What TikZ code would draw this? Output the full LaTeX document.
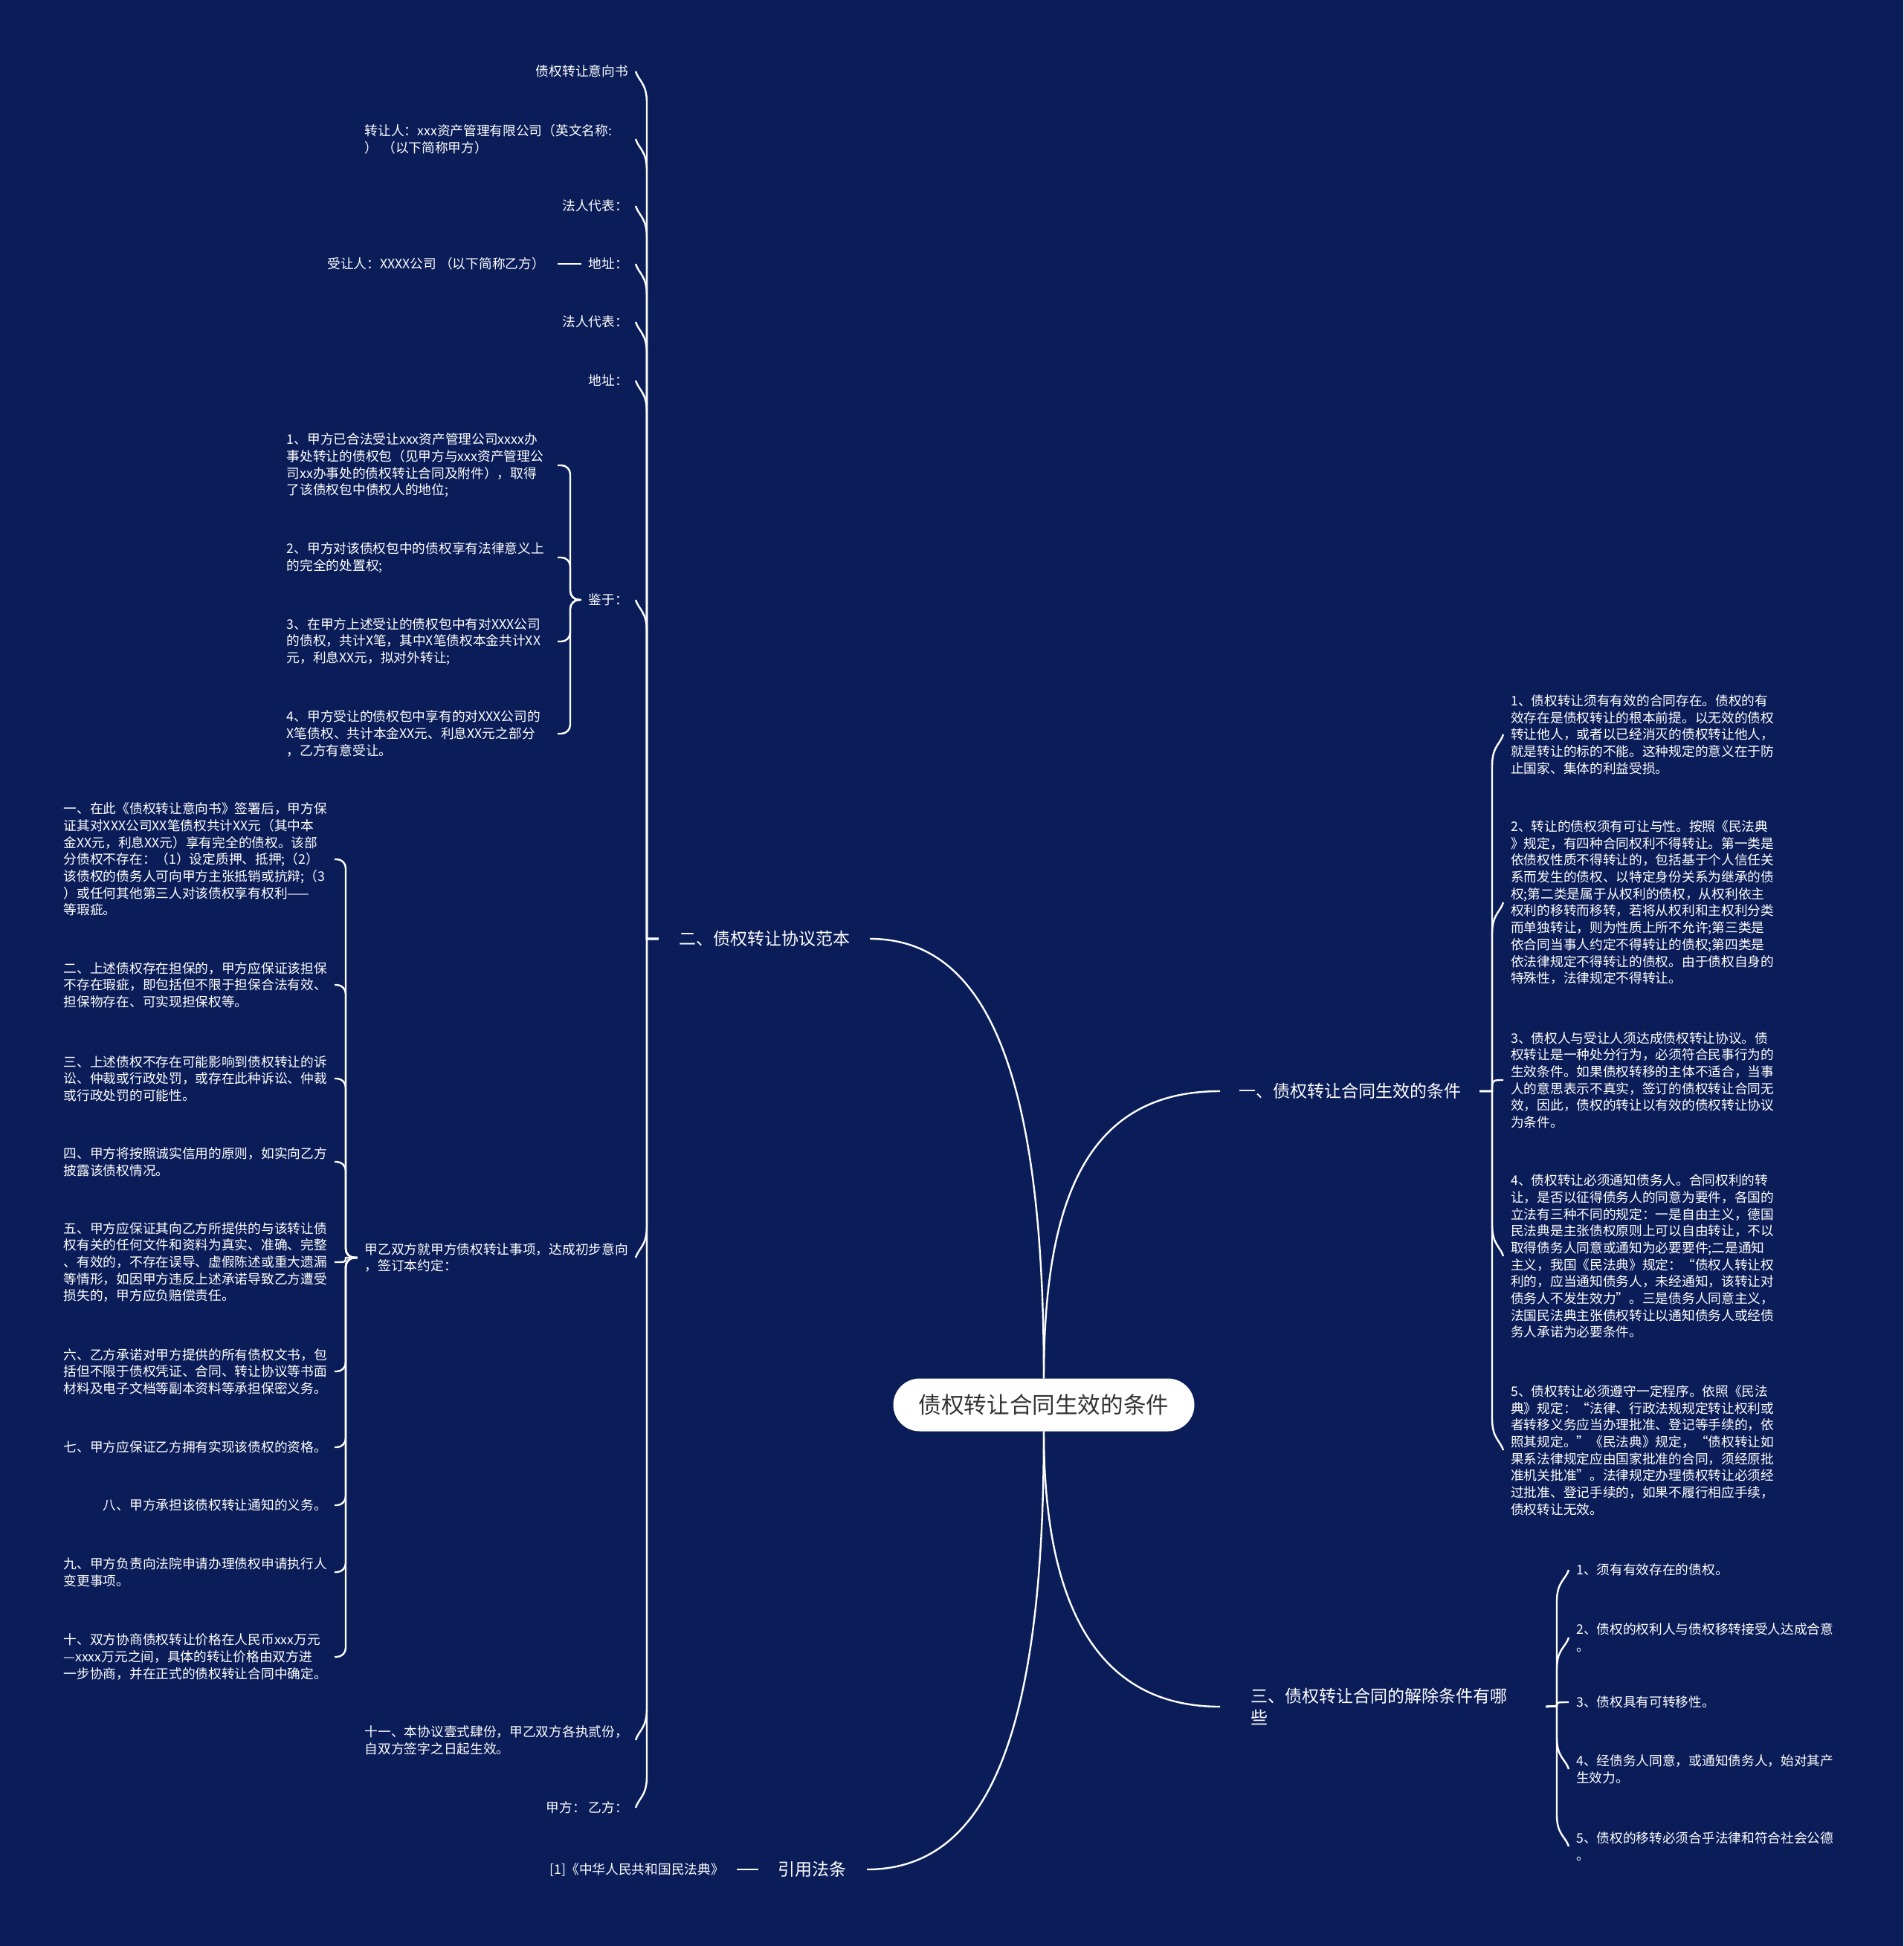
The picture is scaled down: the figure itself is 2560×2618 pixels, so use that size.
\documentclass[tikz,border=0pt]{standalone}
\usepackage{fontspec}
\setmainfont{Noto Sans CJK SC}
\usetikzlibrary{calc}
\definecolor{bgblue}{HTML}{0B1D59}
\definecolor{rootgray}{HTML}{333333}
\newcommand\leaffont{\fontsize{17.7pt}{22.7pt}\selectfont}
\newcommand\branchfont{\fontsize{23pt}{29pt}\selectfont}
\newcommand\rootfont{\fontsize{30.6pt}{36pt}\selectfont}
% hook connectors: #1 parent anchor, #2 junction, #3 child anchor, #4 = 1 (child above) or -1 (child below)
\newcommand\hookL[4]{\draw[conn] (#1) -- (#2) -- ($(#2 |- #3)+(0,#4*42)$) .. controls ($(#2 |- #3)+(0,#4*16)$) and ($(#3)+(4,#4*13)$) .. (#3);}
\newcommand\hookR[4]{\draw[conn] (#1) -- (#2) -- ($(#2 |- #3)+(0,#4*42)$) .. controls ($(#2 |- #3)+(0,#4*16)$) and ($(#3)+(-4,#4*13)$) .. (#3);}
\newcommand\hookN[3]{\draw[conn] (#1) -- (#2) .. controls (#2 |- #3) .. (#3);}
\tikzset{
  conn/.style={draw=white, line width=2.4pt},
  brk/.style={conn, rounded corners=12pt},
  leaf/.style={text=white, font=\leaffont, inner xsep=10pt, inner ysep=3pt},
  leafw/.style={leaf, text width=354pt, align=left},
  leafn/.style={leaf, align=left},
  branch/.style={text=white, font=\branchfont, inner ysep=4pt},
  rootbox/.style={fill=white, rounded corners=35.5pt, minimum width=405pt, minimum height=71pt, text=rootgray, font=\rootfont, inner sep=0pt}
}
\begin{document}
\begin{tikzpicture}[x=1pt,y=-1pt]
\fill[bgblue] (0,0) rectangle (2560,2618);
\useasboundingbox (0,0) rectangle (2560,2618);

% root
\node[rootbox] (root) at (1404,1890) {债权转让合同生效的条件};

% branches
\node[branch, inner xsep=27pt] (b2) at (1028,1263) {二、债权转让协议范本};
\node[branch, inner xsep=25pt, anchor=west] (b1) at (1641,1468) {一、债权转让合同生效的条件};
\node[branch, inner xsep=41pt, text width=356pt, align=left, anchor=west] (b3) at (1641,2296) {三、债权转让合同的解除条件有哪\\些};
\node[branch, inner xsep=27pt, anchor=east] (b4) at (1166,2515) {引用法条};

\draw[conn] (root.north) .. controls (1404,1450) and (1330,1263) .. (b2.east);
\draw[conn] (root.north) .. controls (1404,1600) and (1470,1468) .. (b1.west);
\draw[conn] (root.south) .. controls (1404,2150) and (1470,2296) .. (b3.west);
\draw[conn] (root.south) .. controls (1404,2330) and (1330,2515) .. (b4.east);

% reference
\node[leaf, inner xsep=17pt, anchor=east] (ref) at (991,2515) {[1]《中华人民共和国民法典》};
\draw[conn] (b4.west) -- (ref.east);

% children of 二
\node[leafn, anchor=east] (n1) at (855,96) {债权转让意向书};
\node[leafw, anchor=east] (n2) at (855,187) {转让人：xxx资产管理有限公司（英文名称:\\） （以下简称甲方）};
\node[leafn, anchor=east] (n3) at (855,277) {法人代表：};
\node[leafn, anchor=east] (n4) at (855,355) {地址：};
\node[leafn, anchor=east] (n5) at (855,433) {法人代表：};
\node[leafn, anchor=east] (n6) at (855,512) {地址：};
\node[leafn, anchor=east] (n7) at (855,807) {鉴于：};
\node[leafw, anchor=east] (n8) at (855,1692) {甲乙双方就甲方债权转让事项，达成初步意向\\，签订本约定：};
\node[leafw, anchor=east] (n9) at (855,2341) {十一、本协议壹式肆份，甲乙双方各执贰份，\\自双方签字之日起生效。};
\node[leafn, anchor=east] (n10) at (855,2432) {甲方：\ 乙方：};

\coordinate (J2) at (870,1263);
\foreach \c/\s in {n1/1,n2/1,n3/1,n4/1,n5/1,n6/1,n7/1,n8/-1,n9/-1,n10/-1}
  {\hookL{b2.west}{J2}{\c.east}{\s}}

% child of 地址
\node[leaf, inner xsep=17pt, anchor=east] (sr) at (750,355) {受让人：XXXX公司 （以下简称乙方）};
\draw[conn] (n4.west) -- (sr.east);

% children of 鉴于
\node[leafw, anchor=east] (j1) at (750,626) {1、甲方已合法受让xxx资产管理公司xxxx办\\事处转让的债权包（见甲方与xxx资产管理公\\司xx办事处的债权转让合同及附件），取得\\了该债权包中债权人的地位;};
\node[leafw, anchor=east] (j2) at (750,750) {2、甲方对该债权包中的债权享有法律意义上\\的完全的处置权;};
\node[leafw, anchor=east] (j3) at (750,863) {3、在甲方上述受让的债权包中有对XXX公司\\的债权，共计X笔，其中X笔债权本金共计XX\\元，利息XX元，拟对外转让;};
\node[leafw, anchor=east] (j4) at (750,987) {4、甲方受让的债权包中享有的对XXX公司的\\X笔债权、共计本金XX元、利息XX元之部分\\，乙方有意受让。};
\coordinate (Jj) at (767,807);
\foreach \c in {j1,j2,j3,j4}
  \draw[brk] (n7.west) -- (Jj) |- (\c.east);

% children of 甲乙双方
\node[leafw, anchor=east] (k1) at (450,1156) {一、在此《债权转让意向书》签署后，甲方保\\证其对XXX公司XX笔债权共计XX元（其中本\\金XX元，利息XX元）享有完全的债权。该部\\分债权不存在：（1）设定质押、抵押;（2）\\该债权的债务人可向甲方主张抵销或抗辩;（3\\）或任何其他第三人对该债权享有权利——\\等瑕疵。};
\node[leafw, anchor=east] (k2) at (450,1325) {二、上述债权存在担保的，甲方应保证该担保\\不存在瑕疵，即包括但不限于担保合法有效、\\担保物存在、可实现担保权等。};
\node[leafw, anchor=east] (k3) at (450,1451) {三、上述债权不存在可能影响到债权转让的诉\\讼、仲裁或行政处罚，或存在此种诉讼、仲裁\\或行政处罚的可能性。};
\node[leafw, anchor=east] (k4) at (450,1563) {四、甲方将按照诚实信用的原则，如实向乙方\\披露该债权情况。};
\node[leafw, anchor=east] (k5) at (450,1698) {五、甲方应保证其向乙方所提供的与该转让债\\权有关的任何文件和资料为真实、准确、完整\\、有效的，不存在误导、虚假陈述或重大遗漏\\等情形，如因甲方违反上述承诺导致乙方遭受\\损失的，甲方应负赔偿责任。};
\node[leafw, anchor=east] (k6) at (450,1845) {六、乙方承诺对甲方提供的所有债权文书，包\\括但不限于债权凭证、合同、转让协议等书面\\材料及电子文档等副本资料等承担保密义务。};
\node[leafn, anchor=east] (k7) at (450,1947) {七、甲方应保证乙方拥有实现该债权的资格。};
\node[leafn, anchor=east] (k8) at (450,2025) {八、甲方承担该债权转让通知的义务。};
\node[leafw, anchor=east] (k9) at (450,2115) {九、甲方负责向法院申请办理债权申请执行人\\变更事项。};
\node[leafw, anchor=east] (k10) at (450,2229) {十、双方协商债权转让价格在人民币xxx万元\\—xxxx万元之间，具体的转让价格由双方进\\一步协商，并在正式的债权转让合同中确定。};
\coordinate (Jk) at (465,1692);
\foreach \c in {k1,k2,k3,k4,k6,k7,k8,k9,k10}
  \draw[brk] (n8.west) -- (Jk) |- (\c.east);
\hookN{n8.west}{Jk}{k5.east}

% children of 一
\node[leafn, anchor=west] (c1) at (2022,988) {1、债权转让须有有效的合同存在。债权的有\\效存在是债权转让的根本前提。以无效的债权\\转让他人，或者以已经消灭的债权转让他人，\\就是转让的标的不能。这种规定的意义在于防\\止国家、集体的利益受损。};
\node[leafn, anchor=west] (c2) at (2022,1214) {2、转让的债权须有可让与性。按照《民法典\\》规定，有四种合同权利不得转让。第一类是\\依债权性质不得转让的，包括基于个人信任关\\系而发生的债权、以特定身份关系为继承的债\\权;第二类是属于从权利的债权，从权利依主\\权利的移转而移转，若将从权利和主权利分类\\而单独转让，则为性质上所不允许;第三类是\\依合同当事人约定不得转让的债权;第四类是\\依法律规定不得转让的债权。由于债权自身的\\特殊性，法律规定不得转让。};
\node[leafn, anchor=west] (c3) at (2022,1453) {3、债权人与受让人须达成债权转让协议。债\\权转让是一种处分行为，必须符合民事行为的\\生效条件。如果债权转移的主体不适合，当事\\人的意思表示不真实，签订的债权转让合同无\\效，因此，债权的转让以有效的债权转让协议\\为条件。};
\node[leafn, anchor=west] (c4) at (2022,1690) {4、债权转让必须通知债务人。合同权利的转\\让，是否以征得债务人的同意为要件，各国的\\立法有三种不同的规定：一是自由主义，德国\\民法典是主张债权原则上可以自由转让，不以\\取得债务人同意或通知为必要要件;二是通知\\主义，我国《民法典》规定：“债权人转让权\\利的，应当通知债务人，未经通知，该转让对\\债务人不发生效力”。三是债务人同意主义，\\法国民法典主张债权转让以通知债务人或经债\\务人承诺为必要条件。};
\node[leafn, anchor=west] (c5) at (2022,1951) {5、债权转让必须遵守一定程序。依照《民法\\典》规定：“法律、行政法规规定转让权利或\\者转移义务应当办理批准、登记等手续的，依\\照其规定。”《民法典》规定，“债权转让如\\果系法律规定应由国家批准的合同，须经原批\\准机关批准”。法律规定办理债权转让必须经\\过批准、登记手续的，如果不履行相应手续，\\债权转让无效。};
\coordinate (Jc) at (2007,1468);
\foreach \c/\s in {c1/1,c2/1,c4/-1,c5/-1}
  {\hookR{b1.east}{Jc}{\c.west}{\s}}
\hookN{b1.east}{Jc}{c3.west}

% children of 三
\node[leafn, anchor=west] (d1) at (2110,2112) {1、须有有效存在的债权。};
\node[leafn, anchor=west] (d2) at (2110,2203) {2、债权的权利人与债权移转接受人达成合意\\。};
\node[leafn, anchor=west] (d3) at (2110,2290) {3、债权具有可转移性。};
\node[leafn, anchor=west] (d4) at (2110,2380) {4、经债务人同意，或通知债务人，始对其产\\生效力。};
\node[leafn, anchor=west] (d5) at (2110,2484) {5、债权的移转必须合乎法律和符合社会公德\\。};
\coordinate (Jd) at (2094,2295);
\foreach \c/\s in {d1/1,d2/1,d4/-1,d5/-1}
  {\hookR{b3.east}{Jd}{\c.west}{\s}}
\hookN{b3.east}{Jd}{d3.west}
\end{tikzpicture}
\end{document}
